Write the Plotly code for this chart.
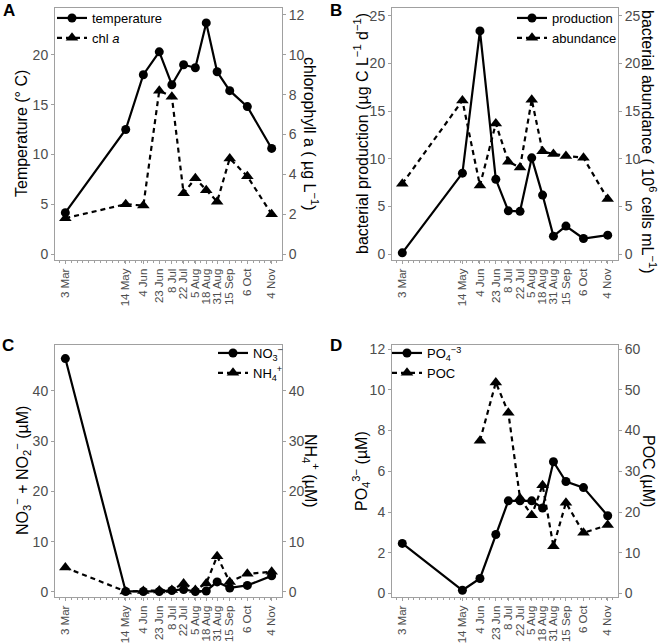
import plotly.graph_objects as go

# ---------------- data ----------------
dates = ["2019-03-03", "2019-05-14", "2019-06-04", "2019-06-23", "2019-07-08", "2019-07-22",
         "2019-08-05", "2019-08-18", "2019-08-31", "2019-09-15", "2019-10-06", "2019-11-04"]
date_labels = ["3 Mar", "14 May", "4 Jun", "23 Jun", "8 Jul", "22 Jul",
               "5 Aug", "18 Aug", "31 Aug", "15 Sep", "6 Oct", "4 Nov"]

temperature = [4.15, 12.5, 18.0, 20.3, 17.0, 19.0, 18.7, 23.2, 18.3, 16.4, 14.8, 10.6]
chl_a = [1.8, 2.5, 2.43, 8.2, 7.9, 3.05, 3.8, 3.2, 2.63, 4.8, 3.9, 2.0]

production = [0.15, 8.5, 23.4, 7.85, 4.55, 4.5, 10.1, 6.2, 1.9, 2.95, 1.65, 2.0]
abundance = [7.4, 16.1, 7.2, 13.7, 9.7, 9.1, 16.2, 10.8, 10.5, 10.3, 10.1, 5.8]

nitrate = [46.4, 0.1, 0.1, 0.1, 0.3, 0.5, 0.1, 0.2, 2.0, 0.8, 1.3, 3.2]
ammonium = [4.85, 0.1, 0.2, 0.3, 0.4, 1.7, 0.4, 1.7, 7.1, 2.0, 3.6, 4.0]

phosphate = [2.46, 0.16, 0.74, 2.9, 4.55, 4.55, 4.55, 4.2, 6.47, 5.5, 5.2, 3.82]
poc = [None, None, 37.5, 51.8, 44.4, 23.4, 19.2, 26.6, 11.6, 22.3, 14.9, 16.8]

# ---------------- style ----------------
W, H = 660, 643
FONT = "Liberation Sans, Arial, sans-serif"
TICK_COL = "#4d4d4d"
BORDER = "#a0a0a0"
DASH = "5px,4px"


def px_x(p):
    return p / W


def px_y(p):
    return 1 - p / H


fig = go.Figure()


def add_pair(xa, ya_left, ya_right, solid, dashed, solid_name, dashed_name, legend):
    fig.add_trace(go.Scatter(x=dates, y=dashed, name=dashed_name, xaxis=xa, yaxis=ya_right,
                             mode="lines+markers", legend=legend, legendrank=2,
                             line=dict(color="black", width=2.2, dash=DASH),
                             marker=dict(symbol="triangle-up", size=11, color="black")))
    fig.add_trace(go.Scatter(x=dates, y=solid, name=solid_name, xaxis=xa, yaxis=ya_left,
                             mode="lines+markers", legend=legend, legendrank=1,
                             line=dict(color="black", width=2.2),
                             marker=dict(symbol="circle", size=9, color="black")))


add_pair("x", "y", "y2", temperature, chl_a, "temperature", "chl <i>a</i>", "legend")
add_pair("x2", "y3", "y4", production, abundance, "production", "abundance", "legend2")
add_pair("x3", "y5", "y6", nitrate, ammonium, "NO<sub>3</sub><sup>−</sup>",
         "NH<sub>4</sub><sup>+</sup>", "legend3")
add_pair("x4", "y7", "y8", phosphate, poc, "PO<sub>4</sub><sup>−3</sup>", "POC", "legend4")

xrange = ["2019-02-18 16:00", "2019-11-16 08:00"]


def xaxis_def(left, right, anchor):
    return dict(domain=[px_x(left), px_x(right)], anchor=anchor, type="date",
                range=xrange, tickmode="array", tickvals=dates, ticktext=date_labels,
                tickangle=-90, ticks="outside", ticklen=3, tickcolor=BORDER,
                tickfont=dict(size=11.5, color=TICK_COL, family=FONT),
                showline=True, linecolor=BORDER, linewidth=1, mirror=True,
                showgrid=False, zeroline=False, automargin=False,
                minor=dict(tickmode="linear", tick0="2019-03-03", dtick=7 * 86400000,
                           ticks="outside", ticklen=2, tickcolor=BORDER, showgrid=False))


def yaxis_def(top, bottom, anchor, rng, dtick, side="left", overlay=None):
    d = dict(domain=[px_y(bottom), px_y(top)], anchor=anchor, range=rng, dtick=dtick,
             tick0=0, side=side, ticks="outside", ticklen=3, tickcolor=BORDER,
             tickfont=dict(size=14, color=TICK_COL, family=FONT),
             showline=True, linecolor=BORDER, linewidth=1,
             showgrid=False, zeroline=False, automargin=False)
    if overlay:
        d["overlaying"] = overlay
        d.pop("domain")
    return d


AL, AR = 55, 282
BL, BR = 392, 618
TT, TB = 8, 260
BT, BB = 345, 597

fig.update_layout(
    xaxis=xaxis_def(AL, AR, "y"),
    yaxis=yaxis_def(TT, TB, "x", [-0.6, 24.7], 5),
    yaxis2=yaxis_def(TT, TB, "x", [-0.3, 12.35], 2, side="right", overlay="y"),
    xaxis2=xaxis_def(BL, BR, "y3"),
    yaxis3=yaxis_def(TT, TB, "x2", [-0.6, 25.8], 5),
    yaxis4=yaxis_def(TT, TB, "x2", [-0.6, 25.8], 5, side="right", overlay="y3"),
    xaxis3=xaxis_def(AL, AR, "y5"),
    yaxis5=yaxis_def(BT, BB, "x3", [-1.0, 49.1], 10),
    yaxis6=yaxis_def(BT, BB, "x3", [-1.0, 49.1], 10, side="right", overlay="y5"),
    xaxis4=xaxis_def(BL, BR, "y7"),
    yaxis7=yaxis_def(BT, BB, "x4", [-0.17, 12.2], 2),
    yaxis8=yaxis_def(BT, BB, "x4", [-0.85, 61.0], 10, side="right", overlay="y7"),
)


def legend_def(left, top):
    return dict(x=px_x(left), y=px_y(top), xanchor="left", yanchor="top",
                bgcolor="rgba(0,0,0,0)", font=dict(size=13, color="black", family=FONT),
                tracegroupgap=0, itemwidth=30, traceorder="normal")


fig.update_layout(
    legend=legend_def(52, 3),
    legend2=legend_def(512, 3),
    legend3=legend_def(213, 338),
    legend4=legend_def(387, 338),
)

annotations = []
# panel letters
for txt, x, y in [("A", 9, 10), ("B", 336, 10), ("C", 8, 345), ("D", 336, 345)]:
    annotations.append(dict(text=f"<b>{txt}</b>", x=px_x(x), y=px_y(y), xref="paper", yref="paper",
                            showarrow=False, xanchor="center", yanchor="middle",
                            font=dict(size=17, color="black", family=FONT)))

# axis titles
titles = [
    ("Temperature (° C)", 21, 134, -90),
    ("chlorophyll a ( µg L<sup>−1</sup>)", 311, 134, 90),
    ("bacterial production (µg C L<sup>−1</sup> d<sup>−1</sup>)", 361, 134, -90),
    ("bacterial abundance ( 10<sup>6</sup> cells mL<sup>−1</sup>)", 649, 142, 90),
    ("NO<sub>3</sub><sup>−</sup> + NO<sub>2</sub><sup>−</sup> (µM)", 22, 471, -90),
    ("NH<sub>4</sub><sup>+</sup> (µM)", 311, 471, 90),
    ("PO<sub>4</sub><sup>3−</sup> (µM)", 361, 471, -90),
    ("POC (µM)", 648, 471, 90),
]
for txt, x, y, ang in titles:
    annotations.append(dict(text=txt, x=px_x(x), y=px_y(y), xref="paper", yref="paper",
                            showarrow=False, xanchor="center", yanchor="middle", textangle=ang,
                            font=dict(size=16, color="black", family=FONT)))

fig.update_layout(
    width=W, height=H,
    margin=dict(l=0, r=0, t=0, b=0, autoexpand=False),
    paper_bgcolor="white", plot_bgcolor="white",
    font=dict(family=FONT, color="black"),
    annotations=annotations,
    showlegend=True,
)

fig.write_html("out.html",
               config={"displayModeBar": False},
               post_script="document.body.style.margin='0';document.body.style.padding='0';")
